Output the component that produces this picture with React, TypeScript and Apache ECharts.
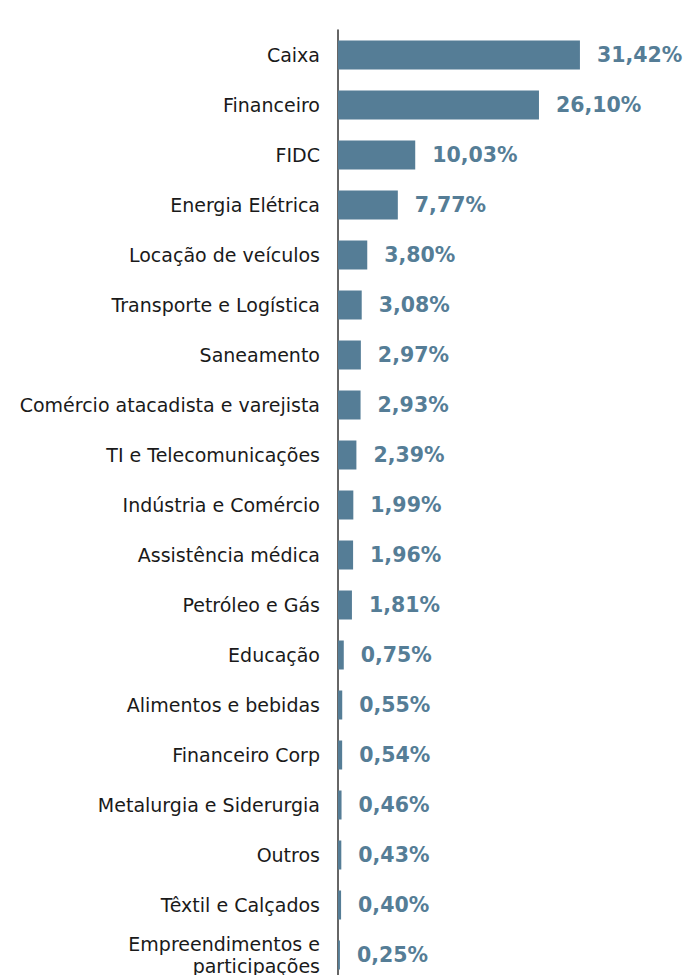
import React, { useEffect, useRef } from "react";
import * as echarts from "echarts";

const categories = [
  "Caixa",
  "Financeiro",
  "FIDC",
  "Energia Elétrica",
  "Locação de veículos",
  "Transporte e Logística",
  "Saneamento",
  "Comércio atacadista e varejista",
  "TI e Telecomunicações",
  "Indústria e Comércio",
  "Assistência médica",
  "Petróleo e Gás",
  "Educação",
  "Alimentos e bebidas",
  "Financeiro Corp",
  "Metalurgia e Siderurgia",
  "Outros",
  "Têxtil e Calçados",
  "Empreendimentos e\nparticipações",
];

const values = [
  31.42, 26.1, 10.03, 7.77, 3.8, 3.08, 2.97, 2.93, 2.39, 1.99, 1.96, 1.81, 0.75,
  0.55, 0.54, 0.46, 0.43, 0.4, 0.25,
];

const BAR_COLOR = "#557d96";

export default function App() {
  const ref = useRef<HTMLDivElement>(null);
  useEffect(() => {
    document.body.style.margin = "0";
    document.body.style.overflow = "hidden";
    if (!ref.current) return;
    const chart = echarts.init(ref.current, null, { renderer: "svg" });
    chart.setOption({
      animation: false,
      grid: { left: 338, right: 39, top: 30, height: 950, containLabel: false },
      xAxis: {
        type: "value",
        min: 0,
        max: 40,
        show: false,
      },
      yAxis: {
        type: "category",
        data: categories,
        inverse: true,
        axisLine: { show: true, lineStyle: { color: "#333333", width: 1.5 } },
        axisTick: { show: false },
        axisLabel: {
          margin: 18,
          color: "#1a1a1a",
          fontSize: 19,
          fontFamily: "DejaVu Sans",
          lineHeight: 22,
        },
      },
      series: [
        {
          type: "bar",
          data: values,
          barWidth: 29,
          itemStyle: { color: BAR_COLOR },
          label: {
            show: true,
            position: "right",
            distance: 17,
            color: BAR_COLOR,
            fontSize: 20.5,
            fontWeight: "bold",
            fontFamily: "DejaVu Sans",
            formatter: (p: any) => p.value.toFixed(2).replace(".", ",") + "%",
          },
        },
      ],
    });
    return () => chart.dispose();
  }, []);
  return <div ref={ref} style={{ width: 685, height: 990 }} />;
}
